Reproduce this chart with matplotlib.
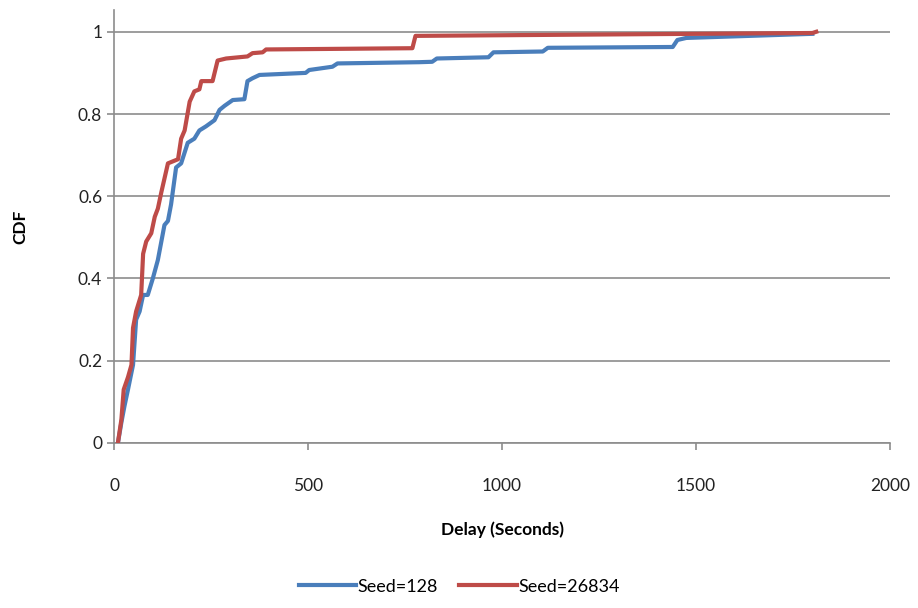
import numpy as np
import matplotlib
matplotlib.use("Agg")
import matplotlib.pyplot as plt

plt.rcParams['font.family'] = ['Lato', 'DejaVu Sans']

# Seed=128 (blue) - delay in seconds, cdf
delay_128 = [10, 19, 27, 36, 49, 57, 66, 75, 87, 100, 113, 122, 130, 139, 147, 160,
             173, 190, 207, 220, 237, 259, 272, 285, 306, 336, 344, 357, 375, 494,
             503, 563, 576, 786, 820, 832, 965, 978, 1105, 1118, 1440, 1452, 1475, 1800]
cdf_128 = [0.0, 0.05, 0.09, 0.13, 0.19, 0.30, 0.32, 0.36, 0.36, 0.40, 0.445, 0.49,
           0.53, 0.54, 0.58, 0.67, 0.68, 0.73, 0.74, 0.76, 0.77, 0.785, 0.81, 0.82,
           0.834, 0.836, 0.88, 0.887, 0.895, 0.90, 0.907, 0.915, 0.923, 0.926, 0.927,
           0.935, 0.938, 0.95, 0.952, 0.961, 0.963, 0.98, 0.985, 0.995]

# Seed=26834 (red)
delay_26834 = [10, 19, 25, 36, 45, 49, 57, 70, 75, 83, 96, 105, 113, 122, 139, 165,
               173, 182, 195, 207, 220, 225, 254, 267, 289, 344, 357, 383, 392, 769,
               777, 1200, 1800, 1810]
cdf_26834 = [0.0, 0.057, 0.13, 0.16, 0.19, 0.28, 0.32, 0.36, 0.46, 0.49, 0.51, 0.55,
             0.57, 0.61, 0.68, 0.69, 0.74, 0.76, 0.83, 0.855, 0.86, 0.88, 0.88, 0.93,
             0.935, 0.94, 0.948, 0.95, 0.957, 0.96, 0.99, 0.993, 0.997, 1.0]

xticks = [0, 500, 1000, 1500, 2000]
yticks = [0, 0.2, 0.4, 0.6, 0.8, 1]

fig = plt.figure(figsize=(9.18, 6.08), dpi=100)
ax = fig.add_axes([0.1242, 0.2714, 0.8453, 0.7122])

ax.plot(delay_128, cdf_128, color='#4A7EBB', lw=3, label='Seed=128', zorder=3)
ax.plot(delay_26834, cdf_26834, color='#BE4B48', lw=3, label='Seed=26834', zorder=4)

ax.set_xlim(0, 2000)
ax.set_ylim(0, 1.053)
ax.set_xticks(xticks)
ax.set_yticks(yticks)
ax.set_yticklabels(['0', '0.2', '0.4', '0.6', '0.8', '1'])
ax.yaxis.grid(True, color='#8C8C8C', lw=1.2)
ax.set_axisbelow(True)
for s in ['top', 'right']:
    ax.spines[s].set_visible(False)
for s in ['left', 'bottom']:
    ax.spines[s].set_color('#8C8C8C')
    ax.spines[s].set_linewidth(1.2)
ax.tick_params(axis='both', colors='#8C8C8C', labelcolor='#222222', labelsize=12.5,
               length=5, width=1.2)
ax.tick_params(axis='x', pad=20)

ax.set_xlabel('Delay (Seconds)', fontsize=12.5, fontweight='bold', labelpad=20)
ax.set_ylabel('CDF', fontsize=12.5, fontweight='bold', labelpad=36)

fig.legend(loc='center', bbox_to_anchor=(0.5, 0.035), ncol=2, frameon=False,
           fontsize=13, handlelength=3.2, handletextpad=0.05, columnspacing=1.2)

fig.savefig('out.png', dpi=100)
